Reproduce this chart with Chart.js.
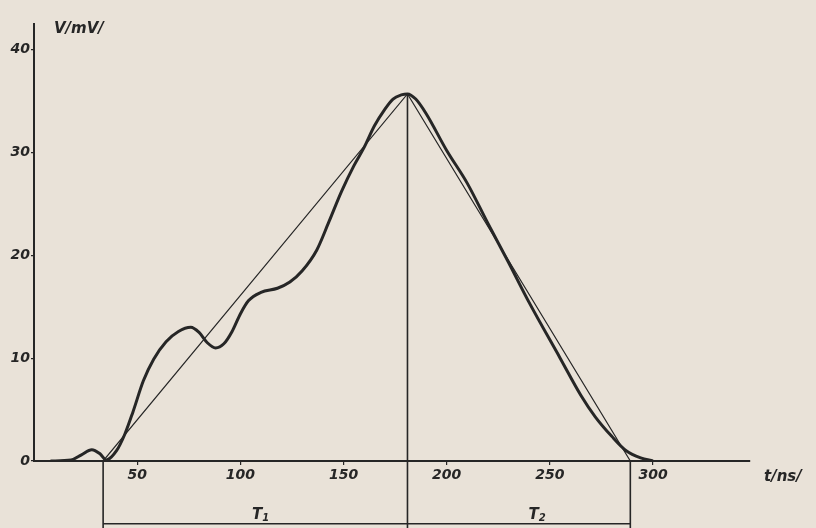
<!DOCTYPE html>
<html>
<head>
<meta charset="utf-8">
<script src="https://cdn.jsdelivr.net/npm/chart.js@4/dist/chart.umd.min.js"></script>
<style>
  html, body { margin: 0; padding: 0; background: #e9e2d8; }
  #c { display: block; }
</style>
</head>
<body>
<canvas id="c" width="816" height="528"></canvas>
<script>
// ---- data ----
const curveT = [8, 18, 23, 28, 32, 35, 40, 44, 48, 53, 58, 64, 70, 76, 80, 84, 88, 92, 96, 100, 104, 110, 118, 124, 130, 137, 143, 149, 155, 160, 165, 170, 174, 178, 181, 185, 190, 200, 210, 220, 230, 240, 255, 265, 272, 280, 287, 294, 300];
const curveV = [0, 0.1, 0.6, 1.1, 0.7, 0.1, 1.0, 2.6, 4.8, 7.8, 9.9, 11.6, 12.6, 13.0, 12.5, 11.5, 11.0, 11.4, 12.6, 14.3, 15.6, 16.4, 16.8, 17.4, 18.5, 20.5, 23.3, 26.2, 28.7, 30.5, 32.6, 34.2, 35.2, 35.6, 35.7, 35.2, 33.8, 30.2, 27.0, 23.1, 19.3, 15.4, 10.0, 6.4, 4.3, 2.4, 1.0, 0.3, 0];
const triangleT = [33.5, 181, 289];
const triangleV = [0, 35.7, 0];
const peakT = 181;
const t1Start = 33.5, t2End = 289;
const dimV = -6.1, dimBottomV = -6.8;
const xTicks = [50, 100, 150, 200, 250, 300];
const yTicks = [0, 10, 20, 30, 40];
const xMax = 347, yMax = 42.5;
const yTitle = 'V/mV/', xTitle = 't/ns/';

const INK = '#262626';
const PAPER = '#e9e2d8';
const FONT = '"DejaVu Sans", sans-serif';

const pts = (xs, ys) => xs.map((x, i) => ({ x: x, y: ys[i] }));

const textPlugin = {
  id: 'texts',
  beforeDraw(chart) {
    const c = chart.ctx;
    c.save();
    c.fillStyle = PAPER;
    c.fillRect(0, 0, chart.width, chart.height);
    c.restore();
  },
  afterDraw(chart) {
    const c = chart.ctx, xs = chart.scales.x, ys = chart.scales.y;
    c.save();
    c.fillStyle = INK;
    c.textBaseline = 'alphabetic';
    c.font = 'italic bold 15px ' + FONT;
    c.textAlign = 'left';
    c.fillText(yTitle, xs.left + 20, ys.top + 9);
    c.fillText(xTitle, xs.right + 14, ys.bottom + 20);
    // dimension labels T1, T2
    const sub = (label, s, tv) => {
      const px = xs.getPixelForValue(tv), py = ys.getPixelForValue(dimV) - 5;
      c.font = 'italic bold 15px ' + FONT;
      c.textAlign = 'left';
      c.fillText(label, px - 7, py);
      const w = c.measureText(label).width;
      c.font = 'italic bold 10px ' + FONT;
      c.fillText(s, px - 7 + w, py + 2);
    };
    sub('T', '1', 109);
    sub('T', '2', 243);
    c.restore();
  }
};

new Chart(document.getElementById('c'), {
  type: 'line',
  data: {
    datasets: [
      { data: pts(curveT, curveV), borderColor: INK, borderWidth: 3, cubicInterpolationMode: 'monotone', pointRadius: 0 },
      { data: pts(triangleT, triangleV), borderColor: INK, borderWidth: 1.2, tension: 0, pointRadius: 0 },
      { data: [{ x: peakT, y: triangleV[1] }, { x: peakT, y: dimBottomV }], borderColor: INK, borderWidth: 1.6, pointRadius: 0, clip: false },
      { data: [{ x: t1Start, y: 0 }, { x: t1Start, y: dimBottomV }], borderColor: INK, borderWidth: 1.6, pointRadius: 0, clip: false },
      { data: [{ x: t2End, y: 0 }, { x: t2End, y: dimBottomV }], borderColor: INK, borderWidth: 1.6, pointRadius: 0, clip: false },
      { data: [{ x: t1Start, y: dimV }, { x: t2End, y: dimV }], borderColor: INK, borderWidth: 1.6, pointRadius: 0, clip: false }
    ]
  },
  options: {
    responsive: false,
    animation: false,
    layout: { padding: { left: 0, right: 66, top: 24, bottom: 0 } },
    plugins: { legend: { display: false }, tooltip: { enabled: false }, title: { display: false } },
    elements: { point: { radius: 0 } },
    scales: {
      x: {
        type: 'linear', min: 0, max: xMax,
        afterBuildTicks: s => { s.ticks = xTicks.map(v => ({ value: v })); },
        afterFit: s => { s.height = 67; },
        grid: { drawOnChartArea: false, drawTicks: true, tickLength: 4, color: INK, lineWidth: 1.2 },
        border: { display: true, color: INK, width: 2 },
        ticks: { color: INK, font: { family: FONT, size: 14, style: 'italic', weight: 'bold' }, padding: 2, maxRotation: 0, autoSkip: false }
      },
      y: {
        type: 'linear', min: 0, max: yMax,
        afterBuildTicks: s => { s.ticks = yTicks.map(v => ({ value: v })); },
        afterFit: s => { s.width = 34; },
        grid: { drawOnChartArea: false, drawTicks: true, tickLength: 3, color: INK, lineWidth: 1.2 },
        border: { display: true, color: INK, width: 2 },
        ticks: { color: INK, font: { family: FONT, size: 14, style: 'italic', weight: 'bold' }, padding: 1 }
      }
    }
  },
  plugins: [textPlugin]
});
</script>
</body>
</html>
